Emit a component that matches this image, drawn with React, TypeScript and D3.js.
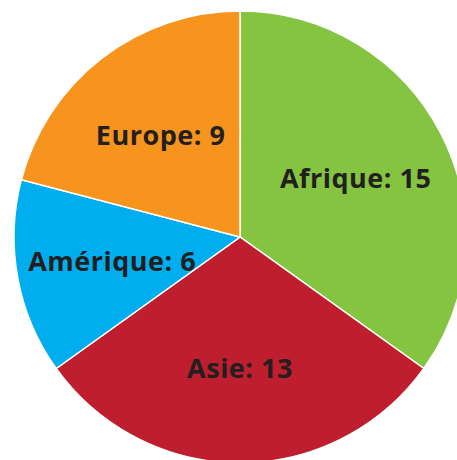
import React from "react";
import * as d3 from "d3";

const categories = ["Afrique", "Asie", "Amérique", "Europe"];
const values = [15, 13, 6, 9];
const colors = ["#84C441", "#BE1E2D", "#00AEEF", "#F7941D"];

const W = 457;
const H = 460;
const CX = 240;
const CY = 237;
const R = 226;
const LABEL_R = 130;

export default function App() {
  const data = categories.map((c, i) => ({ name: c, value: values[i], color: colors[i] }));
  const pie = d3.pie<any>().value((d) => d.value).sort(null);
  const arcs = pie(data);
  const arc = d3.arc<any>().innerRadius(0).outerRadius(R);
  const labelArc = d3.arc<any>().innerRadius(LABEL_R).outerRadius(LABEL_R);
  return (
    <svg
      width={W}
      height={H}
      style={{ position: "absolute", left: 0, top: 0, background: "#fff" }}
    >
      <g transform={`translate(${CX},${CY})`}>
        {arcs.map((a, i) => (
          <path key={i} d={arc(a) as string} fill={a.data.color} stroke="#fff" strokeWidth={1.5} />
        ))}
        {arcs.map((a, i) => {
          const [x, y] = labelArc.centroid(a);
          return (
            <text
              key={"t" + i}
              x={x}
              y={y}
              textAnchor="middle"
              dominantBaseline="central"
              fontFamily="'Open Sans', sans-serif"
              fontWeight="bold"
              fontSize={27}
              letterSpacing={0.5}
              fill="#231F20"
            >
              {`${a.data.name}: ${a.data.value}`}
            </text>
          );
        })}
      </g>
    </svg>
  );
}
